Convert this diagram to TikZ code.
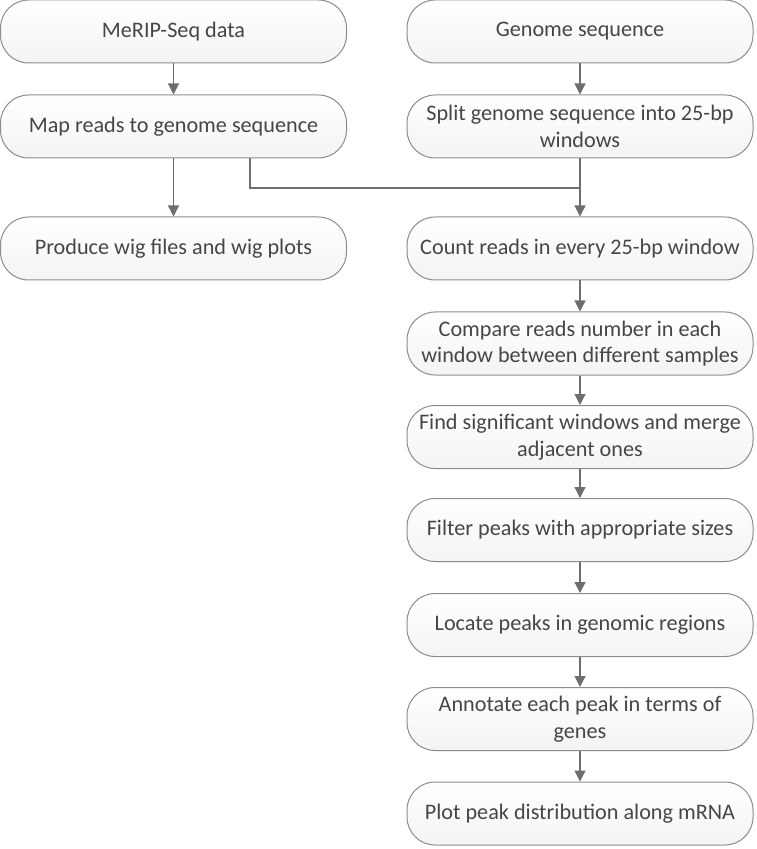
\documentclass[tikz,border=0pt]{standalone}
\usepackage{fontspec}
\setmainfont{Carlito}
\usetikzlibrary{positioning,arrows.meta}

\definecolor{boxline}{RGB}{140,140,140}
\definecolor{boxtext}{RGB}{70,70,70}
\definecolor{flowline}{RGB}{110,110,110}

\tikzset{
  stepbox/.style={draw=boxline, line width=0.5pt, rounded corners=14pt,
    top color=white, bottom color=gray!9, text=boxtext,
    minimum width=173pt, minimum height=31.5pt, inner sep=2pt,
    align=center, font=\fontsize{11.1}{13.4}\selectfont},
  flow/.style={draw=flowline, line width=0.6pt,
    -{Triangle[width=5.5pt,length=5.5pt]}},
  link/.style={draw=flowline, line width=0.6pt}
}

\begin{document}
\begin{tikzpicture}
  \useasboundingbox (0,0) rectangle (378pt,-424.5pt);

  % left column
  \node [stepbox] (merip) at (86.75pt,-15.75pt) {MeRIP-Seq data};
  \node [stepbox] (mapreads) at (86.75pt,-63.25pt) {Map reads to genome sequence};
  \node [stepbox] (wig) at (86.75pt,-124.25pt) {Produce wig files and wig plots};

  % right column
  \node [stepbox] (genome) at (290pt,-15.75pt) {Genome sequence};
  \node [stepbox] (split) at (290pt,-63.25pt) {Split genome sequence into 25-bp\\windows};
  \node [stepbox] (count) at (290pt,-124.25pt) {Count reads in every 25-bp window};
  \node [stepbox] (compare) at (290pt,-171.75pt) {Compare reads number in each\\window between different samples};
  \node [stepbox] (merge) at (290pt,-218.5pt) {Find significant windows and merge\\adjacent ones};
  \node [stepbox] (filter) at (290pt,-265pt) {Filter peaks with appropriate sizes};
  \node [stepbox] (locate) at (290pt,-312.5pt) {Locate peaks in genomic regions};
  \node [stepbox] (annotate) at (290pt,-359.5pt) {Annotate each peak in terms of\\genes};
  \node [stepbox] (plot) at (290pt,-406.75pt) {Plot peak distribution along mRNA};

  \coordinate (join) at (290pt,-94pt);

  \draw [flow] (merip) -- (mapreads);
  \draw [flow] (mapreads) -- (wig);
  \draw [flow] (genome) -- (split);
  \draw [flow] (split) -- (count);
  \draw [link] (mapreads.south -| 125pt,0) |- (join);
  \draw [flow] (count) -- (compare);
  \draw [flow] (compare) -- (merge);
  \draw [flow] (merge) -- (filter);
  \draw [flow] (filter) -- (locate);
  \draw [flow] (locate) -- (annotate);
  \draw [flow] (annotate) -- (plot);
\end{tikzpicture}
\end{document}
